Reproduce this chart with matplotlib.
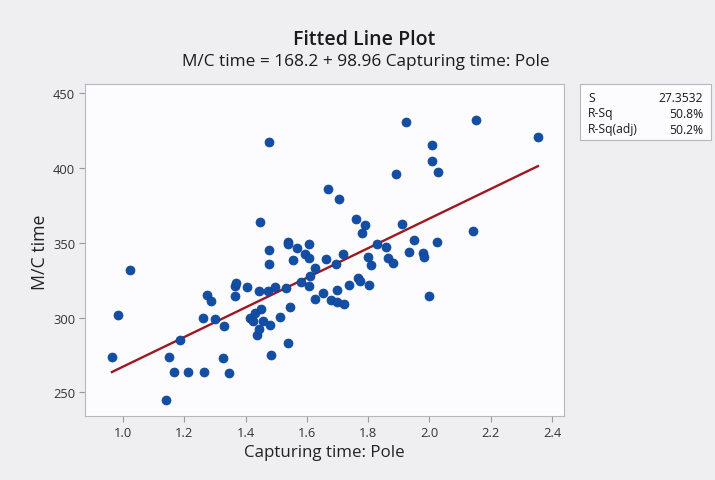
import matplotlib
matplotlib.use("Agg")
import matplotlib.pyplot as plt
from matplotlib.patches import Rectangle
import numpy as np

# Data
capturing_time = [0.964, 0.984, 1.024, 1.141, 1.149, 1.166, 1.186, 1.211, 1.260, 1.264,
                  1.274, 1.287, 1.299, 1.325, 1.328, 1.346, 1.364, 1.364, 1.370, 1.406,
                  1.415, 1.423, 1.430, 1.438, 1.444, 1.446, 1.445, 1.451, 1.458, 1.472,
                  1.475, 1.477, 1.477, 1.481, 1.484, 1.495, 1.512, 1.533, 1.537, 1.540,
                  1.540, 1.545, 1.556, 1.569, 1.581, 1.593, 1.607, 1.608, 1.607, 1.609,
                  1.627, 1.627, 1.654, 1.663, 1.669, 1.678, 1.695, 1.699, 1.699, 1.705,
                  1.719, 1.722, 1.737, 1.759, 1.768, 1.774, 1.779, 1.791, 1.801, 1.804,
                  1.808, 1.828, 1.857, 1.865, 1.881, 1.892, 1.910, 1.925, 1.934, 1.948,
                  1.980, 1.983, 2.000, 2.007, 2.007, 2.026, 2.027, 2.141, 2.151, 2.354]
mc_time = [273.4, 301.9, 331.8, 244.9, 273.4, 263.4, 285.2, 263.4, 299.6, 263.4,
           315.1, 311.2, 298.7, 273.0, 294.6, 262.8, 314.6, 321.1, 322.8, 320.4,
           299.8, 297.5, 302.7, 288.6, 292.3, 364.0, 318.0, 305.6, 297.7, 318.0,
           335.6, 345.0, 417.5, 294.7, 274.7, 320.4, 300.5, 319.8, 283.0, 350.6,
           349.0, 307.3, 338.2, 346.3, 323.4, 342.1, 349.2, 340.0, 321.3, 327.6,
           333.2, 312.4, 316.7, 339.1, 385.9, 311.6, 335.8, 310.2, 318.5, 379.2,
           342.5, 309.2, 321.7, 365.6, 326.2, 324.1, 356.6, 361.8, 340.2, 321.7,
           335.2, 349.2, 347.2, 339.6, 336.2, 396.1, 362.7, 430.4, 343.6, 351.8,
           343.0, 340.7, 314.3, 415.3, 404.6, 350.4, 397.0, 357.8, 432.2, 420.8]

intercept = 168.2
slope = 98.96
stat_labels = ["S", "R-Sq", "R-Sq(adj)"]
stat_values = ["27.3532", "50.8%", "50.2%"]
x_ticks = [1.0, 1.2, 1.4, 1.6, 1.8, 2.0, 2.2, 2.4]
y_ticks = [250, 300, 350, 400, 450]

plt.rcParams['font.family'] = ['Open Sans', 'DejaVu Sans']

W, H = 715, 481
fig = plt.figure(figsize=(W / 100, H / 100), dpi=100)
fig.patch.set_facecolor('#efeff2')

ax = fig.add_axes([85 / W, 1 - 417 / H, (564 - 85) / W, (417 - 85) / H])
ax.set_facecolor('#fcfcfe')

ax.scatter(capturing_time, mc_time, s=42, color='#124ea3', edgecolors='#0d4399',
           linewidths=0.5, zorder=3)

xs = np.array([min(capturing_time), max(capturing_time)])
ax.plot(xs, intercept + slope * xs, color='#9e1820', lw=1.7, zorder=2)

ax.set_xlim(0.876, 2.439)
ax.set_ylim(234.2, 456.0)
ax.set_xticks(x_ticks)
ax.set_xticklabels([f"{t:.1f}" for t in x_ticks])
ax.set_yticks(y_ticks)
for sp in ax.spines.values():
    sp.set_color('#b8b8bc')
    sp.set_linewidth(0.8)
ax.tick_params(axis='both', length=4, width=0.8, color='#9a9aa0', labelsize=9.3,
               labelcolor='#333333', pad=3)

fig.text(85 / W + (564 - 85) / W / 2, 1 - 453 / H, "Capturing time: Pole",
         ha='center', va='center', fontsize=12.2, color='#222222')
fig.text(40 / W, 1 - 252 / H, "M/C time", rotation=90, ha='center', va='center',
         fontsize=12.8, color='#222222')

fig.text(364 / W, 1 - 40 / H, "Fitted Line Plot", ha='center', va='center',
         fontsize=14, fontweight='semibold', color='#1a1a1a')
fig.text(366 / W, 1 - 62 / H,
         f"M/C time = {intercept} + {slope} Capturing time: Pole",
         ha='center', va='center', fontsize=12.4, color='#1a1a1a')

# statistics box
bx0, by0, bx1, by1 = 580, 85, 711, 141
fig.patches.append(Rectangle((bx0 / W, 1 - by1 / H), (bx1 - bx0) / W, (by1 - by0) / H,
                             transform=fig.transFigure, facecolor='#fcfcfe',
                             edgecolor='#b8b8bc', lw=0.8))
row_y = [98, 114, 130]
for lab, val, yy in zip(stat_labels, stat_values, row_y):
    fig.text(588 / W, 1 - yy / H, lab, ha='left', va='center', fontsize=8.7,
             color='#1a1a1a')
    fig.text(703 / W, 1 - yy / H, val, ha='right', va='center', fontsize=8.7,
             color='#1a1a1a')

fig.savefig("out.png", dpi=100, facecolor=fig.get_facecolor())
